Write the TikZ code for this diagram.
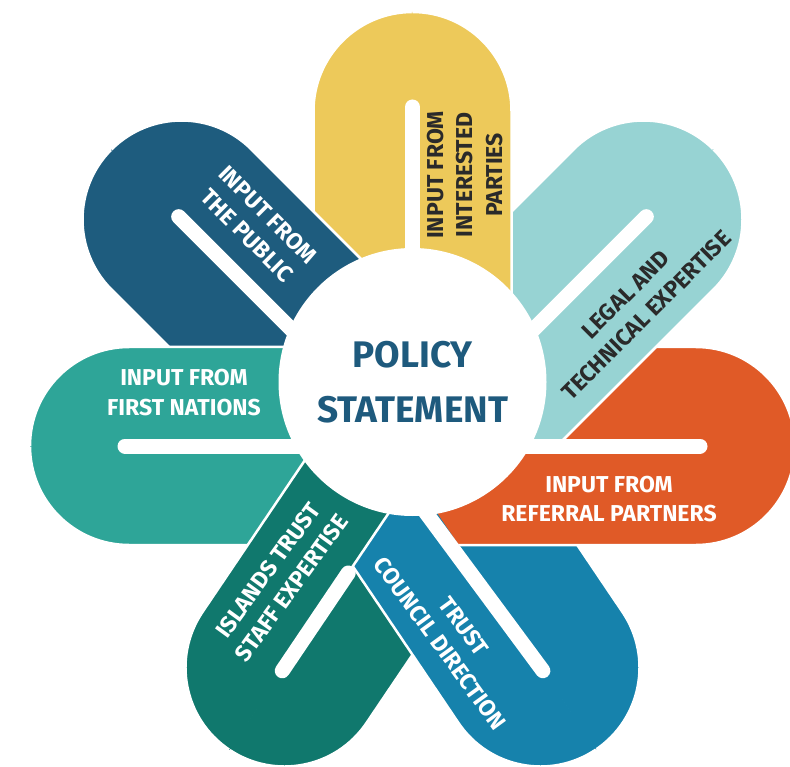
\documentclass[tikz,border=0pt]{standalone}
\usepackage{fontspec}
\setmainfont{Fira Sans}
\definecolor{cYellow}{RGB}{237,201,90}
\definecolor{cLTeal}{RGB}{151,211,211}
\definecolor{cOrange}{RGB}{224,90,39}
\definecolor{cBlue}{RGB}{22,130,172}
\definecolor{cDGreen}{RGB}{16,120,109}
\definecolor{cTeal}{RGB}{46,165,152}
\definecolor{cDBlue}{RGB}{30,92,126}
\definecolor{cDarkText}{RGB}{42,42,42}
\definecolor{cPolicy}{RGB}{30,90,125}
\tikzset{
  petaltext/.style={font=\fontsize{23}{29.5}\selectfont\bfseries, align=center, inner sep=0pt},
  darktext/.style={petaltext, text=cDarkText},
  lighttext/.style={petaltext, text=white},
  whiteband/.style={draw=white, line width=15pt, line cap=round},
  petalseam/.style={draw=white, line width=2.5pt},
}
% #1 x, #2 y (pixels), #3 angle, #4 inner length, #5 colour
\newcommand{\PetalCW}[5]{%
  \begin{scope}[shift={(#1,#2)}, rotate=#3]
    \fill[#5] (-#4,-0.6) -- (-#4,99) -- (0,99) arc[start angle=90, end angle=0, radius=99] -- (99,-0.6) -- cycle;
    \path[petalseam] (-#4,99) -- (0,99) arc[start angle=90, end angle=0, radius=99];
  \end{scope}}
\newcommand{\PetalCCW}[5]{%
  \begin{scope}[shift={(#1,#2)}, rotate=#3]
    \fill[#5] (-#4,0) -- (-#4,-99) -- (0,-99) arc[start angle=-90, end angle=0, radius=99] -- cycle;
    \path[petalseam] (-#4,-99) -- (0,-99) arc[start angle=-90, end angle=0, radius=99];
  \end{scope}}
% white line along the axis: #1 x, #2 y, #3 angle, #4 inner length
\newcommand{\PetalBand}[4]{%
  \begin{scope}[shift={(#1,#2)}, rotate=#3]
    \path[whiteband] (4,0) coordinate (bandtip) -- (-#4,0) coordinate (bandfoot);
  \end{scope}}
\begin{document}
\begin{tikzpicture}[x=1pt, y=-1pt]
  \path[use as bounding box] (0,0) rectangle (790,767);
  \clip (0,0) rectangle (790,767);
  % lower layer: counter-clockwise halves
  \PetalCCW{412.5}{111}{90}{300}{cYellow}
  \PetalCCW{181.5}{219.5}{135}{252}{cDBlue}
  \PetalCCW{129}{446}{180}{291}{cTeal}
  \PetalCCW{284.5}{667.5}{236}{230}{cDGreen}
  \PetalCCW{540.5}{667.5}{-56}{230}{cBlue}
  \PetalCCW{696}{446}{0}{296}{cOrange}
  \PetalCCW{643.5}{219.5}{45}{302}{cLTeal}
  % upper layer: clockwise halves with their white lines
  \PetalCW{412.5}{111}{90}{300}{cYellow}
  \PetalBand{412.5}{111}{90}{170}
  \PetalCW{643.5}{219.5}{45}{302}{cLTeal}
  \PetalBand{643.5}{219.5}{45}{175}
  \PetalCW{696}{446}{0}{296}{cOrange}
  \PetalBand{696}{446}{0}{200}
  \PetalCW{540.5}{667.5}{-56}{230}{cBlue}
  \PetalBand{540.5}{667.5}{-53.5}{200}
  \PetalCW{284.5}{667.5}{236}{230}{cDGreen}
  \begin{scope}[shift={(284.5,667.5)}, rotate=236]
    \path[whiteband] (4,0) coordinate (gtip) -- (-114,0) coordinate (gfoot);
    \path[petalseam] (gfoot) -- (-205,0) coordinate (gend);
  \end{scope}
  \PetalCW{129}{446}{180}{291}{cTeal}
  \PetalBand{129}{446}{180}{200}
  \PetalCW{181.5}{219.5}{135}{252}{cDBlue}
  \PetalBand{181.5}{219.5}{135}{175}
  % centre disc
  \node[circle, fill=white, minimum size=268pt, inner sep=0pt] (hub) at (412.5,382) {};
  \node[font=\fontsize{37}{55}\selectfont\bfseries, text=cPolicy, align=center, inner sep=0pt] (policy) at (hub.center) {POLICY\\STATEMENT};
  % petal labels
  \node[darktext, rotate=90] (tInterested) at (465,175) {INPUT FROM\\INTERESTED\\PARTIES};
  \node[darktext, rotate=45] (tLegal) at (636,305) {LEGAL AND\\TECHNICAL EXPERTISE};
  \node[lighttext] (tReferral) at (609,499) {INPUT FROM\\REFERRAL PARTNERS};
  \node[lighttext, rotate=-54] (tTrust) at (452,635) {TRUST\\COUNCIL DIRECTION};
  \node[lighttext, rotate=54] (tIslands) at (280,579) {ISLANDS TRUST\\STAFF EXPERTISE};
  \node[lighttext] (tFirst) at (184,392.5) {INPUT FROM\\FIRST NATIONS};
  \node[lighttext, rotate=-45] (tPublic) at (257.5,225) {INPUT FROM\\THE PUBLIC};
\end{tikzpicture}
\end{document}
